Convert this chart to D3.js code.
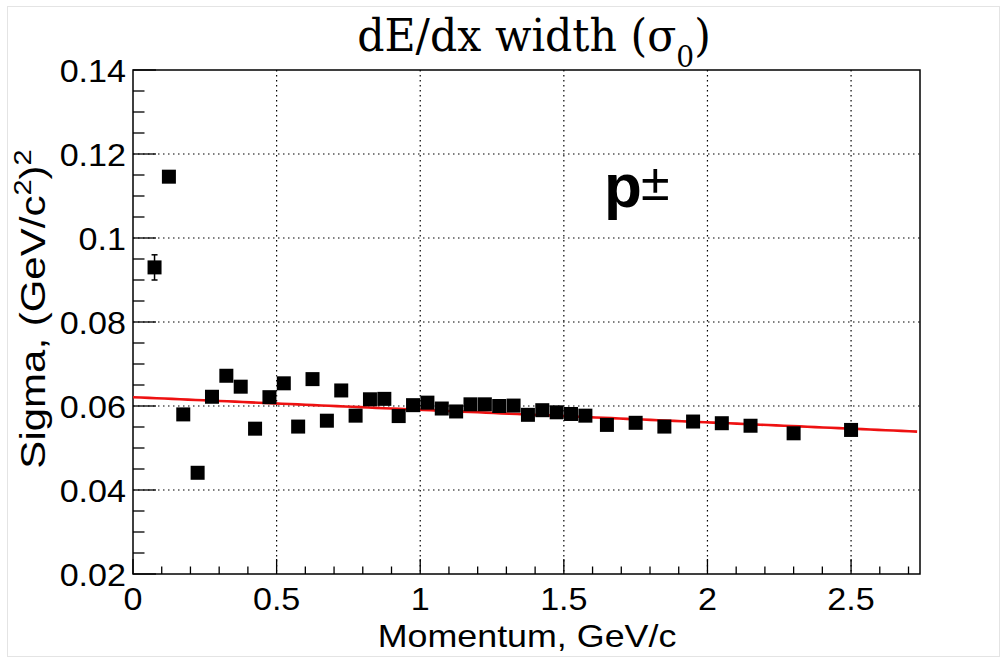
<!DOCTYPE html>
<html><head><meta charset="utf-8">
<script src="https://cdn.jsdelivr.net/npm/d3@7"></script>
<style>body{margin:0;background:#fff}svg{display:block}</style>
</head><body>
<svg id="c" width="1007" height="661"></svg>
<script>
const momentum = [0.075,0.125,0.175,0.225,0.275,0.325,0.375,0.425,0.475,0.525,0.575,0.625,0.675,0.725,0.775,0.825,0.875,0.925,0.975,1.025,1.075,1.125,1.175,1.225,1.275,1.325,1.375,1.425,1.475,1.525,1.575,1.65,1.75,1.85,1.95,2.05,2.15,2.30,2.50];
const sigma = [0.0930,0.1146,0.0580,0.0441,0.0622,0.0672,0.0646,0.0546,0.0621,0.0654,0.0551,0.0664,0.0565,0.0637,0.0577,0.0616,0.0617,0.0576,0.0602,0.0608,0.0594,0.0587,0.0604,0.0604,0.0600,0.0601,0.0579,0.0590,0.0585,0.0581,0.0577,0.0555,0.0560,0.0551,0.0563,0.0559,0.0553,0.0535,0.0543];
const sigmaErr = [0.0030,0.0012,0.0010,0.0008,0.0008,0.0007,0.0007,0.0006,0.0006,0.0006,0.0006,0.0006,0.0006,0.0006,0.0005,0.0005,0.0005,0.0005,0.0005,0.0005,0.0005,0.0005,0.0005,0.0005,0.0005,0.0005,0.0005,0.0005,0.0005,0.0005,0.0005,0.0005,0.0005,0.0005,0.0005,0.0005,0.0005,0.0006,0.0006];
const fitParams = [0.0621, -0.0030]; // p0 + p1*x
const fitRange = [0, 2.73];
const xDomain = [0, 2.74];
const yDomain = [0.02, 0.14];
const xTicks = [0,0.5,1,1.5,2,2.5];
const yTicks = [0.02,0.04,0.06,0.08,0.1,0.12,0.14];
const yTickLabels = ["0.02","0.04","0.06","0.08","0.1","0.12","0.14"];

const svg = d3.select("#c");
const L=133,R=920,T=70,B=574;
const x = d3.scaleLinear().domain(xDomain).range([L,R]);
const y = d3.scaleLinear().domain(yDomain).range([B,T]);
const sans = "'Liberation Sans', Arial, Helvetica, sans-serif";

// faint outer border
svg.append("rect").attr("x",7.5).attr("y",6.5).attr("width",992).attr("height",650)
 .attr("fill","none").attr("stroke","#e4e4e4").attr("stroke-width",1);

// grid
const g = svg.append("g");
g.selectAll(".gx").data(xTicks.filter(t=>t>0)).enter().append("line")
 .attr("x1",d=>x(d)).attr("x2",d=>x(d)).attr("y1",T).attr("y2",B)
 .attr("stroke","#000").attr("stroke-width",1.2).attr("stroke-dasharray","1.5,3.5");
g.selectAll(".gy").data(yTicks.filter(t=>t>0.02&&t<0.14)).enter().append("line")
 .attr("x1",L).attr("x2",R).attr("y1",d=>y(d)).attr("y2",d=>y(d))
 .attr("stroke","#000").attr("stroke-width",1.2).attr("stroke-dasharray","1.5,3.5");

// frame
svg.append("rect").attr("x",L).attr("y",T).attr("width",R-L).attr("height",B-T)
 .attr("fill","none").attr("stroke","#000").attr("stroke-width",1.5);

// x axis ticks
const xMinor = d3.range(0,28).map(i=>i/10).filter(v=>v<=xDomain[1]);
svg.append("g").selectAll("line").data(xMinor).enter().append("line")
 .attr("x1",d=>x(d)).attr("x2",d=>x(d)).attr("y1",B)
 .attr("y2",(d,i)=> i%5===0 ? B-15 : B-7.5).attr("stroke","#000").attr("stroke-width",1.3);
svg.append("g").selectAll("text").data(xTicks).enter().append("text")
 .attr("transform",d=>`translate(${x(d)},610) scale(1.1,1)`).attr("text-anchor","middle")
 .attr("font-family",sans).attr("font-size",31).text(d=>d3.format("~g")(d));

// y axis ticks
const yMinor = d3.range(0,25).map(i=>0.02+i*0.005);
svg.append("g").selectAll("line").data(yMinor).enter().append("line")
 .attr("y1",d=>y(d)).attr("y2",d=>y(d)).attr("x1",L)
 .attr("x2",(d,i)=> i%4===0 ? L+23 : L+11.5).attr("stroke","#000").attr("stroke-width",1.3);
svg.append("g").selectAll("text").data(yTicks).enter().append("text")
 .attr("transform",d=>`translate(126,${y(d)+11.5}) scale(1.1,1)`).attr("text-anchor","end")
 .attr("font-family",sans).attr("font-size",31).text((d,i)=>yTickLabels[i]);

// fit line
const fx = d3.range(0,101).map(i=>fitRange[0]+(fitRange[1]-fitRange[0])*i/100);
svg.append("path").datum(fx)
 .attr("d",d3.line().x(d=>x(d)).y(d=>y(fitParams[0]+fitParams[1]*d)))
 .attr("fill","none").attr("stroke","#ee1111").attr("stroke-width",2.6);

// error bars + markers
const pts = momentum.map((m,i)=>({m,s:sigma[i],e:sigmaErr[i]}));
svg.append("g").selectAll("line").data(pts).enter().append("line")
 .attr("x1",d=>x(d.m)).attr("x2",d=>x(d.m)).attr("y1",d=>y(d.s-d.e)).attr("y2",d=>y(d.s+d.e))
 .attr("stroke","#000").attr("stroke-width",1.5);
svg.append("g").selectAll("line").data(pts).enter().append("line")
 .attr("x1",d=>x(d.m)-3).attr("x2",d=>x(d.m)+3).attr("y1",d=>y(d.s+d.e)).attr("y2",d=>y(d.s+d.e))
 .attr("stroke","#000").attr("stroke-width",1.5);
svg.append("g").selectAll("line").data(pts).enter().append("line")
 .attr("x1",d=>x(d.m)-3).attr("x2",d=>x(d.m)+3).attr("y1",d=>y(d.s-d.e)).attr("y2",d=>y(d.s-d.e))
 .attr("stroke","#000").attr("stroke-width",1.5);
svg.append("g").selectAll("rect").data(pts).enter().append("rect")
 .attr("x",d=>x(d.m)-7).attr("y",d=>y(d.s)-7).attr("width",14).attr("height",14).attr("fill","#000");

// title
svg.append("text").attr("transform","translate(534,51) scale(0.97,1)").attr("text-anchor","middle")
 .attr("font-family","'DejaVu Serif', serif").attr("font-size",44)
 .html('dE/dx width (σ<tspan font-size="29" dy="16">0</tspan><tspan dy="-16">)</tspan>');

// axis titles
svg.append("text").attr("transform","translate(527,647) scale(1.12,1)").attr("text-anchor","middle")
 .attr("font-family",sans).attr("font-size",32).text("Momentum, GeV/c");
svg.append("text").attr("transform","translate(45,309) rotate(-90) scale(1,0.85)").attr("text-anchor","middle")
 .attr("font-family",sans).attr("font-size",42)
 .html('Sigma, (GeV/c<tspan font-size="29" dy="-16">2</tspan><tspan dy="16">)</tspan><tspan font-size="29" dy="-16">2</tspan>');

// particle label
svg.append("text").attr("x",604).attr("y",207).attr("font-family",sans).attr("font-weight","bold")
 .attr("font-size",62).text("p");
svg.append("text").attr("x",641).attr("y",200).attr("font-family",sans)
 .attr("font-size",52).text("±");
</script>
</body></html>
